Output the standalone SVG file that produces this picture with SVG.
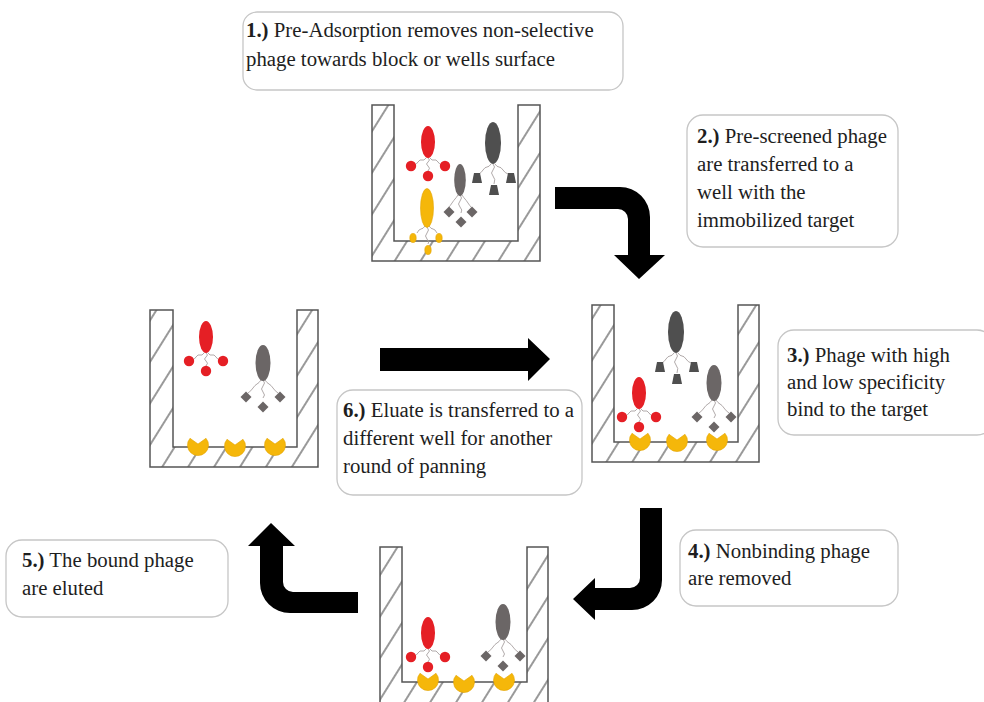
<svg xmlns="http://www.w3.org/2000/svg" width="984" height="702" viewBox="0 0 984 702">
  <style>
    .wall { fill: url(#hatch); stroke: #555; stroke-width: 1.5; stroke-linejoin: miter; }
    .box { fill: #fff; stroke: #c6c6c6; stroke-width: 1.3; }
    .lbl { font-family: "Liberation Serif", "Times New Roman", serif; font-size: 20.8px; fill: #1e1e1e; }
    .num { font-weight: bold; }
    .tail { fill: none; stroke: #a8a0a0; stroke-width: 0.9; }
    .red { fill: #e51f25; }
    .dark { fill: #4f4f4f; }
    .mid { fill: #6b6666; }
    .yel { fill: #f5b70a; stroke: #e2a200; stroke-width: 0.6; }
    .arrow { fill: #000; }
  </style>
  <defs>
    <pattern id="hatch" patternUnits="userSpaceOnUse" width="22" height="22" patternTransform="rotate(32)">
      <rect width="22" height="22" fill="#fff"/>
      <line x1="11" y1="0" x2="11" y2="22" stroke="#555" stroke-width="1.2"/>
    </pattern>
    <path id="diamond" d="M0,-5.5 L5.5,0 L0,5.5 L-5.5,0 Z"/>
    <path id="trap" d="M-3,-5 H3 L5,5 H-5 Z"/>
    <path id="target" d="M-8,-6.7 L0,-1 L8,-6.7 A10.5,10.5 0 1 1 -8,-6.7 Z"/>
    <!-- phage with round binders -->
    <g id="phage-red">
      <path class="tail" d="M-2,16 q-2,3 -4,2 t-4,2 t-4,3 M2,16 q2,3 4,2 t4,2 t4,3 M0,16 q3,2 0,4 t0,4 t0,5"/>
      <ellipse class="red" cx="0" cy="0" rx="7" ry="16"/>
      <circle class="red" cx="-17" cy="24" r="5.2"/>
      <circle class="red" cx="17" cy="24" r="5.2"/>
      <circle class="red" cx="0" cy="34" r="5.2"/>
    </g>
    <!-- phage with trapezoid binders -->
    <g id="phage-dark">
      <path class="tail" d="M-2,21 q-2,3 -4,3 t-4,3 t-4,4 M2,21 q2,3 4,3 t4,3 t5,4 M0,21 q3,3 0,6 t0,6 t1,8"/>
      <ellipse class="dark" cx="0" cy="0" rx="8" ry="21"/>
      <use href="#trap" class="dark" x="-16" y="35"/>
      <use href="#trap" class="dark" x="18" y="35"/>
      <use href="#trap" class="dark" x="1" y="47"/>
    </g>
    <!-- phage with diamond binders -->
    <g id="phage-mid">
      <path class="tail" d="M-2,17 q-2,3 -4,4 t-4,4 t-5,5 M2,17 q2,3 4,4 t4,4 t5,5 M0,17 q3,3 0,6 t0,6 t0,6"/>
      <ellipse class="mid" cx="0" cy="0" rx="7.5" ry="18"/>
      <use href="#diamond" class="mid" x="-17" y="34"/>
      <use href="#diamond" class="mid" x="17" y="34"/>
      <use href="#diamond" class="mid" x="0" y="44"/>
    </g>
  </defs>

  <rect width="984" height="702" fill="#fff"/>

  <!-- step 1: pre-adsorption well -->
  <g id="well-preadsorption">
    <path class="wall" d="M372,105 V261 H540 V105 H518 V241 H394 V105 Z"/>
    <use href="#phage-red" x="428" y="142"/>
    <use href="#phage-dark" x="493" y="143"/>
    <g>
      <path class="tail" d="M458,195 q-2,3 -3,4 t-3,4 t-3,4 M462,195 q2,3 3,4 t3,4 t3,4 M460,195 q3,3 0,6 t0,6 t1,6"/>
      <ellipse class="mid" cx="460" cy="180" rx="5.8" ry="16"/>
      <use href="#diamond" class="mid" x="449" y="212"/>
      <use href="#diamond" class="mid" x="472" y="212"/>
      <use href="#diamond" class="mid" x="461" y="222"/>
    </g>
    <g>
      <path class="tail" d="M425,226 q-2,3 -4,3 t-4,4 M429,226 q2,3 4,3 t4,4 M427,227 q3,3 0,6 t0,6 t1,5"/>
      <ellipse class="yel" cx="427" cy="208" rx="6.5" ry="19.5"/>
      <ellipse class="yel" cx="413" cy="238" rx="3.2" ry="4.6"/>
      <ellipse class="yel" cx="439" cy="238" rx="3.2" ry="4.6"/>
      <ellipse class="yel" cx="428" cy="250" rx="3.2" ry="4.6"/>
    </g>
  </g>

  <!-- step 3: target well with bound phage -->
  <g id="well-binding">
    <path class="wall" d="M592,305 V462 H759 V305 H738 V442 H614 V305 Z"/>
    <use href="#target" class="yel" x="640" y="440"/>
    <use href="#target" class="yel" x="677" y="441"/>
    <use href="#target" class="yel" x="717" y="440"/>
    <use href="#phage-dark" x="676" y="332"/>
    <use href="#phage-mid" x="714" y="383"/>
    <use href="#phage-red" x="639" y="393"/>
  </g>

  <!-- step 6: new well receiving eluate -->
  <g id="well-eluate">
    <path class="wall" d="M150,310 V467 H318 V310 H297 V447 H173 V310 Z"/>
    <use href="#target" class="yel" x="198" y="445"/>
    <use href="#target" class="yel" x="235" y="446"/>
    <use href="#target" class="yel" x="275" y="445"/>
    <use href="#phage-red" x="206" y="337"/>
    <use href="#phage-mid" x="263" y="363"/>
  </g>

  <!-- step 4/5: washed well -->
  <g id="well-washed">
    <path class="wall" d="M380,547 V704 H548 V547 H527 V682 H402 V547 Z"/>
    <use href="#target" class="yel" x="428" y="680"/>
    <use href="#target" class="yel" x="464" y="682"/>
    <use href="#target" class="yel" x="504" y="680"/>
    <use href="#phage-red" x="428" y="633"/>
    <use href="#phage-mid" x="503" y="622"/>
  </g>

  <!-- connectors -->
  <g id="connectors">
    <path class="arrow" d="M555,187 H620 A30,30 0 0 1 650,217 V255 H665 L639,279 L614,255 H628 V219 A10,10 0 0 0 618,209 H555 Z"/>
    <path class="arrow" d="M640,508 H662 V580 A30,30 0 0 1 632,610 H595 V620 L573,599 L595,578 V588 H630 A10,10 0 0 0 640,578 Z"/>
    <path class="arrow" d="M358,592 H293 A10,10 0 0 1 283,582 V546 H295 L271,523 L248,546 H260 V583 A30,30 0 0 0 290,613 H358 Z"/>
    <path class="arrow" d="M380,348 H528 V338 L550,359 L528,381 V371 H380 Z"/>
  </g>

  <!-- step labels -->
  <g id="label-1">
    <rect class="box" x="243" y="12" width="380" height="78" rx="14"/>
    <text class="lbl" x="246" y="37"><tspan class="num">1.)</tspan> Pre-Adsorption removes non-selective</text>
    <text class="lbl" x="246" y="66">phage towards block or wells surface</text>
  </g>
  <g id="label-2">
    <rect class="box" x="687" y="115" width="211" height="132" rx="16"/>
    <text class="lbl" x="697" y="143"><tspan class="num">2.)</tspan> Pre-screened phage</text>
    <text class="lbl" x="697" y="171">are transferred to a</text>
    <text class="lbl" x="697" y="199">well with the</text>
    <text class="lbl" x="697" y="227">immobilized target</text>
  </g>
  <g id="label-3">
    <rect class="box" x="778" y="330" width="215" height="105" rx="16"/>
    <text class="lbl" x="787" y="362"><tspan class="num">3.)</tspan> Phage with high</text>
    <text class="lbl" x="787" y="389">and low specificity</text>
    <text class="lbl" x="787" y="416">bind to the target</text>
  </g>
  <g id="label-4">
    <rect class="box" x="680" y="530" width="218" height="76" rx="16"/>
    <text class="lbl" x="688" y="558"><tspan class="num">4.)</tspan> Nonbinding phage</text>
    <text class="lbl" x="688" y="585">are removed</text>
  </g>
  <g id="label-5">
    <rect class="box" x="6" y="540" width="222" height="77" rx="16"/>
    <text class="lbl" x="22" y="567"><tspan class="num">5.)</tspan> The bound phage</text>
    <text class="lbl" x="22" y="595">are eluted</text>
  </g>
  <g id="label-6">
    <rect class="box" x="337" y="390" width="245" height="105" rx="16"/>
    <text class="lbl" x="343" y="417"><tspan class="num">6.)</tspan> Eluate is transferred to a</text>
    <text class="lbl" x="343" y="445">different well for another</text>
    <text class="lbl" x="343" y="473">round of panning</text>
  </g>
</svg>
